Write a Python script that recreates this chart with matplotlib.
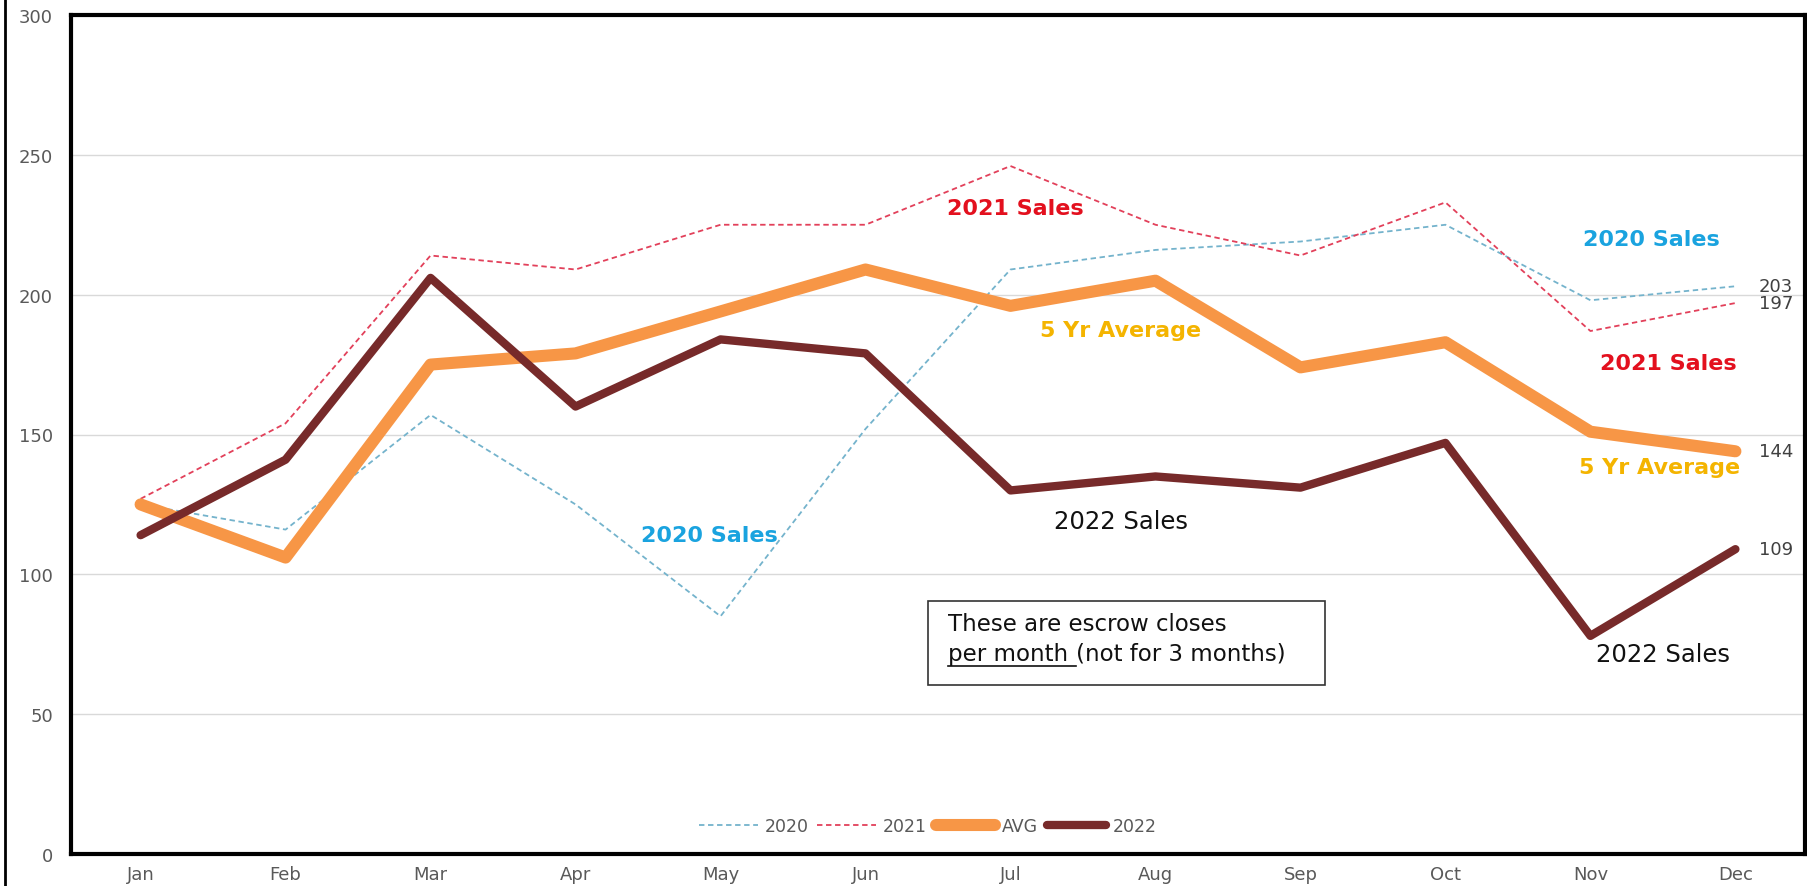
import matplotlib.pyplot as plt
from matplotlib.lines import Line2D
from matplotlib.patches import Rectangle

months = ['Jan', 'Feb', 'Mar', 'Apr', 'May', 'Jun', 'Jul', 'Aug', 'Sep', 'Oct', 'Nov', 'Dec']
sales_2020 = [125, 116, 157, 125, 85, 152, 209, 216, 219, 225, 198, 203]
sales_2021 = [127, 154, 214, 209, 225, 225, 246, 225, 214, 233, 187, 197]
sales_avg = [125, 106, 175, 179, 194, 209, 196, 205, 174, 183, 151, 144]
sales_2022 = [114, 141, 206, 160, 184, 179, 130, 135, 131, 147, 78, 109]
y_ticks = [0, 50, 100, 150, 200, 250, 300]

plt.rcParams['font.family'] = ['DejaVu Sans']

fig = plt.figure(figsize=(18.08, 8.87), dpi=100)
ax = fig.add_axes([71 / 1808, 1 - 855 / 887, (1805 - 71) / 1808, (855 - 16) / 887])
x = list(range(len(months)))

ax.plot(x, sales_2020, color='#74B3CC', lw=1.3, ls=(0, (3, 2)), label='2020')
ax.plot(x, sales_2021, color='#E2405A', lw=1.3, ls=(0, (3, 2)), label='2021')
ax.plot(x, sales_avg, color='#F79646', lw=8.7, solid_capstyle='round',
        solid_joinstyle='round', label='AVG')
ax.plot(x, sales_2022, color='#772A2A', lw=6, solid_capstyle='round',
        solid_joinstyle='round', label='2022')

ax.set_xlim(-0.48, 11.48)
ax.set_ylim(0, 300)
ax.set_xticks(x)
ax.set_xticklabels(months)
ax.set_yticks(y_ticks)
ax.tick_params(axis='both', length=0, colors='#595959', labelsize=13)
ax.tick_params(axis='y', pad=13)
ax.tick_params(axis='x', pad=8)
ax.grid(axis='y', color='#D9D9D9', lw=1)
ax.set_axisbelow(True)
for side in ax.spines.values():
    side.set_color('black')
    side.set_linewidth(3)

# series names written on the chart
bold = dict(fontsize=16, fontweight='bold', ha='center', va='center')
ax.text(6.03, 231, '2021 Sales', color='#E3101E', **bold)
ax.text(10.42, 220, '2020 Sales', color='#1AA3DF', **bold)
ax.text(10.54, 175.5, '2021 Sales', color='#E3101E', **bold)
ax.text(6.76, 187.5, '5 Yr Average', color='#F4B400', **bold)
ax.text(10.48, 138.5, '5 Yr Average', color='#F4B400', **bold)
ax.text(3.92, 114, '2020 Sales', color='#1AA3DF', **bold)
plain = dict(fontsize=17.5, color='#111111', ha='center', va='center')
ax.text(6.76, 119, '2022 Sales', **plain)
ax.text(10.5, 71.5, '2022 Sales', **plain)

# December values at the line ends
for series in [sales_2020, sales_2021, sales_avg, sales_2022]:
    ax.annotate(str(series[-1]), (11, series[-1]), xytext=(17, 0),
                textcoords='offset points', ha='left', va='center',
                color='#404040', fontsize=13)

# note box
ax.add_patch(Rectangle((5.43, 60.6), 2.74, 29.7, fill=False, ec='#333333', lw=1.2))
ax.text(5.57, 80.2, 'These are escrow closes', fontsize=16.5,
        color='#111111', va='baseline', ha='left')
t = ax.text(5.57, 69.4, 'per month ', fontsize=16.5,
            color='#111111', va='baseline', ha='left')
fig.canvas.draw()
bb = t.get_window_extent().transformed(ax.transData.inverted())
ax.add_line(Line2D([bb.x0, bb.x1], [67.3, 67.3], color='#111111', lw=1.2))
ax.text(bb.x1, 69.4, '(not for 3 months)', fontsize=16.5,
        color='#111111', va='baseline', ha='left')

ax.legend(loc='center', bbox_to_anchor=(0.494, 0.033), ncol=4, frameon=False,
          fontsize=12.5, labelcolor='#595959', handlelength=3.4,
          handletextpad=0.4, columnspacing=0.5)

# outer frame edge on the far left
fig.add_artist(Line2D([5 / 1808, 5 / 1808], [0, 1], color='black', lw=2))

fig.savefig('out.png', dpi=100)
